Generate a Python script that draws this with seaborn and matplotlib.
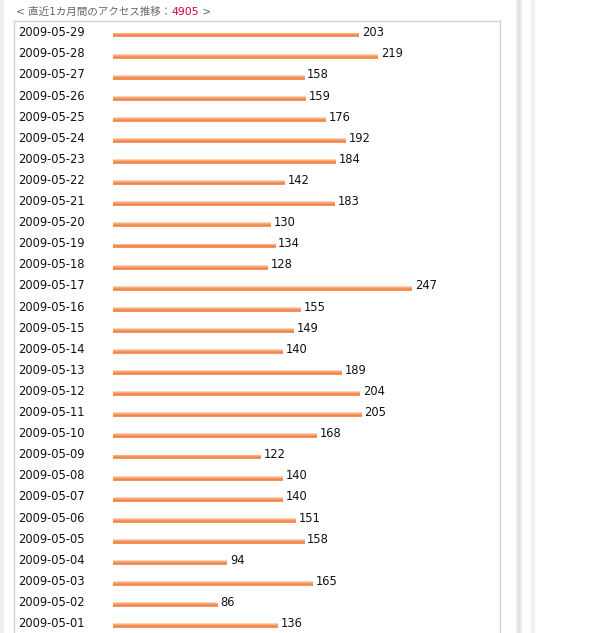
"""
直近1カ月間のアクセス推移 — horizontal bar list, rebuilt with seaborn.
"""

import numpy as np
import matplotlib
matplotlib.use("Agg")
import matplotlib.pyplot as plt
import matplotlib.transforms as mtransforms
from matplotlib.colors import LinearSegmentedColormap
from matplotlib.patches import Rectangle
import seaborn as sns

# ---- data ----
dates = [
    "2009-05-29", "2009-05-28", "2009-05-27", "2009-05-26", "2009-05-25",
    "2009-05-24", "2009-05-23", "2009-05-22", "2009-05-21", "2009-05-20",
    "2009-05-19", "2009-05-18", "2009-05-17", "2009-05-16", "2009-05-15",
    "2009-05-14", "2009-05-13", "2009-05-12", "2009-05-11", "2009-05-10",
    "2009-05-09", "2009-05-08", "2009-05-07", "2009-05-06", "2009-05-05",
    "2009-05-04", "2009-05-03", "2009-05-02", "2009-05-01",
]
visits = [
    203, 219, 158, 159, 176, 192, 184, 142, 183, 130,
    134, 128, 247, 155, 149, 140, 189, 204, 205, 168,
    122, 140, 140, 151, 158, 94, 165, 86, 136,
]
total_label = "4905"
title_left = "< 直近1カ月間のアクセス推移："
title_right = " >"

sns.set_theme(style="white")
plt.rcParams["font.family"] = ["DejaVu Sans", "Noto Sans CJK JP"]

W, H = 602, 633
fig = plt.figure(figsize=(W / 100, H / 100), dpi=100)

# page decoration (side shadows of the layout)
def px_rect(x0, x1, color):
    fig.patches.append(Rectangle((x0 / W, 0), (x1 - x0) / W, 1,
                                 transform=fig.transFigure, color=color, zorder=0))

px_rect(0, 3, "#eeeeee")
px_rect(516, 521, "#eeeef2")
px_rect(518, 519, "#e2e2e8")
px_rect(531, 534, "#f2f2f6")

# box: left 14px, top 21px, right 500px, runs off the bottom
box_l, box_r, box_t = 14, 500, 21
ax = fig.add_axes([box_l / W, 0, (box_r - box_l) / W, (H - box_t) / H])

sns.barplot(x=visits, y=dates, orient="h", width=0.23, color="#f5915a",
            saturation=1, ax=ax)

# scale: 1.21 px per visit, bars start 113px from the left of the image
ppu = 1.21
row = 21.1

# orange gradient on each bar
grad = LinearSegmentedColormap.from_list(
    "bar", ["#fee8d8", "#f9b48a", "#f5945c", "#f2803f", "#f6a57a"])
for patch in ax.patches:
    x0, y0 = patch.get_x(), patch.get_y()
    w, h = patch.get_width(), patch.get_height()
    im = ax.imshow(np.linspace(0, 1, 64).reshape(-1, 1), cmap=grad,
                   aspect="auto", extent=(x0, x0 + w, y0 + h, y0),
                   origin="upper", zorder=3)
    im.set_clip_path(patch)
ax.set_xlim(-(113 - box_l) / ppu, (box_r - 113) / ppu)
ax.set_ylim((H - 35) / row, (box_t - 35) / row)

# value labels
for ann in ax.bar_label(ax.containers[0], padding=2.2, fontsize=8.3,
                        color="#111111"):
    ann.xyann = (ann.xyann[0], 1.6)

# date labels, left-aligned inside the box
lab_tr = mtransforms.offset_copy(ax.get_yaxis_transform(), fig=fig,
                                 y=1.6, units="points")
for i, d in enumerate(dates):
    ax.text((18 - box_l) / (box_r - box_l), i, d, transform=lab_tr,
            ha="left", va="center", fontsize=8.3, color="#111111")

ax.set_xticks([])
ax.set_yticks([])
ax.set_xlabel("")
ax.set_ylabel("")
for side in ("top", "left", "right"):
    ax.spines[side].set_color("#d2d2d2")
    ax.spines[side].set_linewidth(1)
ax.spines["bottom"].set_visible(False)

# heading
t1 = fig.text(16 / W, 1 - 12 / H, title_left, ha="left", va="center",
              fontsize=7.6, color="#666666")
t2 = fig.text(0, 0, total_label, fontsize=7.8, color="#d4003a",
              ha="left", va="baseline")
t3 = fig.text(0, 0, title_right, fontsize=7.6, color="#666666",
              ha="left", va="baseline")
fig.canvas.draw()
r = fig.canvas.get_renderer()
base = t1.get_window_extent(r).y0 + 2.4
for prev, cur in ((t1, t2), (t2, t3)):
    bb = prev.get_window_extent(r)
    cur.set_transform(mtransforms.IdentityTransform())
    cur.set_position((bb.x1, base))
    fig.canvas.draw()

fig.savefig("out.png", dpi=100)
